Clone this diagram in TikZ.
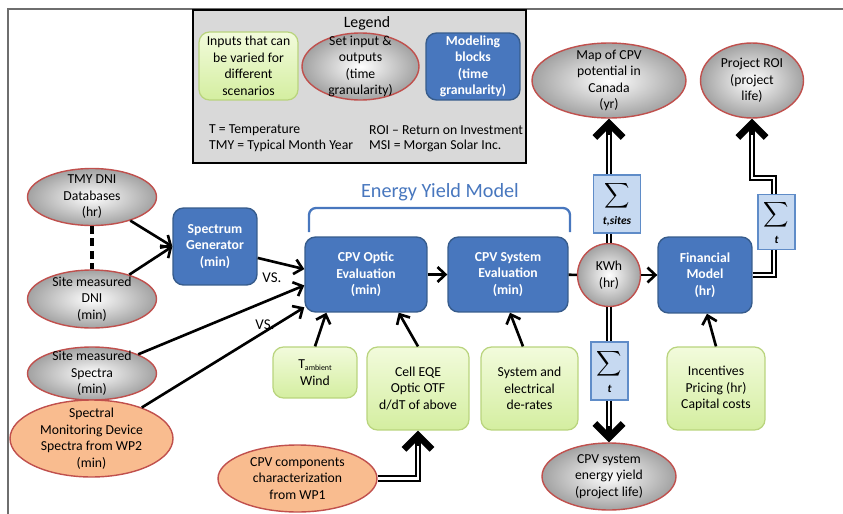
\documentclass[tikz,border=0pt]{standalone}
\usepackage{fontspec}
\setmainfont{Carlito}
\usetikzlibrary{shapes.geometric,arrows.meta}

\definecolor{modelblue}{RGB}{72,119,190}
\definecolor{modeledge}{RGB}{55,92,140}
\definecolor{inputlight}{RGB}{242,251,220}
\definecolor{inputdark}{RGB}{212,238,160}
\definecolor{inputedge}{RGB}{185,212,125}
\definecolor{iogray}{RGB}{162,162,162}
\definecolor{ioedge}{RGB}{192,80,77}
\definecolor{wporange}{RGB}{249,188,143}
\definecolor{sumfill}{RGB}{198,217,241}
\definecolor{sumedge}{RGB}{95,140,200}
\definecolor{legendgray}{RGB}{217,217,217}
\definecolor{framegray}{RGB}{110,110,110}

\newcommand{\bodyfont}{\fontsize{7.8}{9.4}\selectfont}
\newcommand{\sumsign}[1]{{\LARGE$\displaystyle\sum$}\\[3pt]{\fontsize{6.5}{7}\selectfont\bfseries\itshape #1}}

\tikzset{
  model/.style={rectangle, rounded corners=6pt, draw=modeledge, line width=0.8pt,
    fill=modelblue, text=white, font=\bodyfont\bfseries, align=center, inner sep=1pt},
  input/.style={rectangle, rounded corners=6pt, draw=inputedge, line width=0.7pt,
    top color=inputlight, bottom color=inputdark, align=center, inner sep=1pt},
  setio/.style={ellipse, draw=ioedge, line width=0.8pt, inner color=white,
    outer color=iogray, align=center, inner xsep=0pt, inner ysep=-6pt},
  wpio/.style={ellipse, draw=ioedge, line width=0.8pt, fill=wporange,
    align=center, inner xsep=0pt, inner ysep=-6pt},
  sumbox/.style={rectangle, draw=sumedge, line width=0.7pt, fill=sumfill,
    align=center, inner sep=0pt},
  legendbox/.style={rectangle, draw=black, line width=1.2pt, fill=legendgray},
  flow/.style={line width=1.5pt, -{Straight Barb[length=4.5pt,width=8.5pt]}},
  bigflow/.style={line width=3.8pt, -{Straight Barb[length=8pt,width=16pt]}},
  core/.style={white, line width=1.2pt, shorten >=9pt},
}

\begin{document}
\begin{tikzpicture}[x=0.02cm,y=-0.02cm,font=\bodyfont]
\useasboundingbox (0,0) rectangle (843,514);

% frame
\draw[framegray, line width=1.2pt] (8,514) -- (8,9) -- (843,9);

% legend
\node (legend) [legendbox, minimum width=6.66cm, minimum height=3.06cm] at (359.5,86.5) {};
\node (legendtitle) at (367,23) {\fontsize{9}{10}\selectfont Legend};
\node (keyinput) [input, minimum width=1.98cm, minimum height=1.36cm] at (248.5,66)
  {Inputs that can\\be varied for\\different\\scenarios};
\node (keyio) [setio, minimum width=2.34cm, minimum height=1.34cm] at (360.5,66.5)
  {Set input \&\\outputs\\(time\\granularity)};
\node (keymodel) [model, minimum width=1.88cm, minimum height=1.34cm] at (473,66.5)
  {Modeling\\blocks\\(time\\granularity)};
\node (abbrT) [anchor=west] at (203,130) {T = Temperature};
\node (abbrTMY) [anchor=west] at (203,146) {TMY = Typical Month Year};
\node (abbrROI) [anchor=west] at (363,130) {ROI -- Return on Investment};
\node (abbrMSI) [anchor=west] at (363,146) {MSI = Morgan Solar Inc.};

% inputs on the left
\node (tmy) [setio, minimum width=2.58cm, minimum height=1.14cm] at (92,197)
  {TMY DNI\\Databases\\(hr)};
\node (dni) [setio, minimum width=2.58cm, minimum height=1.16cm] at (92,299)
  {Site measured\\DNI\\(min)};
\node (spectra) [setio, minimum width=2.58cm, minimum height=1.06cm] at (92,373.5)
  {Site measured\\Spectra\\(min)};
\node (monitor) [wpio, minimum width=3.26cm, minimum height=1.54cm] at (91.5,438.5)
  {Spectral\\Monitoring Device\\Spectra from WP2\\(min)};

% modeling blocks
\node (spec) [model, minimum width=1.68cm, minimum height=1.54cm] at (215,246.5)
  {Spectrum\\Generator\\(min)};
\node (optic) [model, minimum width=2.44cm, minimum height=1.5cm] at (366,274.5)
  {CPV Optic\\Evaluation\\(min)};
\node (system) [model, minimum width=2.4cm, minimum height=1.5cm] at (508,274.5)
  {CPV System\\Evaluation\\(min)};
\node (kwh) [setio, circle, minimum size=1.26cm] at (609,275) {KWh\\(hr)};
\node (fin) [model, minimum width=1.88cm, minimum height=1.52cm] at (705,275)
  {Financial\\Model\\(hr)};

% scenario inputs
\node (tamb) [input, minimum width=1.68cm, minimum height=1.02cm] at (315,372.5)
  {T\raisebox{-1pt}{\fontsize{4.5}{5}\selectfont ambient}\\Wind};
\node (eqe) [input, minimum width=2.04cm, minimum height=1.66cm] at (418,388.5)
  {Cell EQE\\Optic OTF\\d/dT of above};
\node (derates) [input, minimum width=1.94cm, minimum height=1.66cm] at (529.5,388.5)
  {System and\\electrical\\de-rates};
\node (incent) [input, minimum width=1.96cm, minimum height=1.66cm] at (716,388.5)
  {Incentives\\Pricing (hr)\\Capital costs};
\node (comp) [wpio, minimum width=3.18cm, minimum height=1.34cm] at (297.5,478.5)
  {CPV components\\characterization\\from WP1};

% outputs
\node (map) [setio, minimum width=3.08cm, minimum height=1.5cm] at (609,80.5)
  {Map of CPV\\potential in\\Canada\\(yr)};
\node (roi) [setio, minimum width=2.06cm, minimum height=1.5cm] at (752,80.5)
  {Project ROI\\(project\\life)};
\node (yield) [setio, minimum width=2.68cm, minimum height=1.34cm] at (609,476.5)
  {CPV system\\energy yield\\(project life)};

% energy yield bracket
\draw[modelblue, line width=1.3pt, rounded corners=4pt] (309,232) -- (309,208) -- (570,208) -- (570,232);
\node (eym) [text=modelblue] at (440,192) {\fontsize{11.5}{13}\selectfont Energy Yield Model};

% connectors
\draw[line width=2.2pt, dash pattern=on 4.5pt off 2.5pt] (tmy) -- (dni);
\draw[flow] (tmy) -- (spec.west);
\draw[flow] (dni) -- (spec.west);
\draw[flow] (spec.-15) -- (optic.175);
\draw[flow] (spectra) -- (optic.190);
\draw[flow] (monitor) -- (optic.208);
\draw[flow] (tamb.north) -- ([xshift=0.44cm]optic.south west);
\draw[flow] (eqe.north) -- ([xshift=-0.58cm]optic.south east);
\draw[flow] ([xshift=-0.13cm]derates.north) -- ([xshift=0.04cm]system.south);
\draw[flow] (optic) -- (system);
\draw[line width=1.5pt] (system) -- (kwh);
\draw[flow] (kwh) -- (fin);
\draw[flow] (incent.north) -- ([xshift=0.04cm]fin.south);

\node (vs1) at (272,278) {\fontsize{8.5}{9}\selectfont VS.};
\node (vs2) at (265,325) {\fontsize{8.5}{9}\selectfont VS.};

% aggregated flows
\coordinate (bend) at (774,178);
\draw[bigflow] (kwh) -- (map);
\draw[core] (kwh) -- (map);
\draw[bigflow] (kwh) -- (yield);
\draw[core] (kwh) -- (yield);
\draw[bigflow] (fin.east) -| (bend) -| (roi.south);
\draw[core] (fin.east) -| (bend) -| (roi.south);
\draw[bigflow] (comp.east) -| (eqe.south);
\draw[core] (comp.east) -| (eqe.south);

% sums
\node (sumsites) [sumbox, minimum width=0.94cm, minimum height=1.16cm] at (617,204) {\sumsign{t,sites}};
\node (sumroi) [sumbox, minimum width=0.74cm, minimum height=1.1cm] at (776.5,222) {\sumsign{t}};
\node (sumyield) [sumbox, minimum width=0.74cm, minimum height=1.16cm] at (609.5,371) {\sumsign{t}};
\end{tikzpicture}
\end{document}
